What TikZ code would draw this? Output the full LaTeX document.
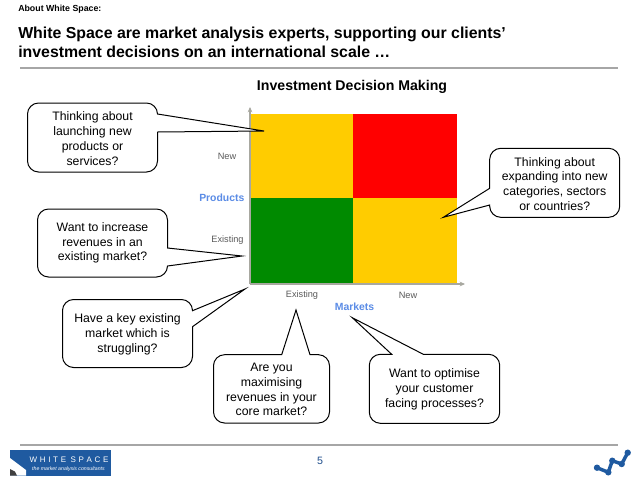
\documentclass[tikz,border=0pt]{standalone}
\usepackage{fontspec}
\setmainfont{Liberation Sans}
\usetikzlibrary{arrows.meta}
\definecolor{wsyellow}{HTML}{FFCC00}
\definecolor{wsred}{HTML}{FF0000}
\definecolor{wsgreen}{HTML}{008A00}
\definecolor{wsrule}{HTML}{A6A6A6}
\definecolor{wsaxis}{HTML}{A8A8A0}
\definecolor{wsaxtext}{HTML}{5A5A5A}
\definecolor{wsblue}{HTML}{5B8CE6}
\definecolor{wsnavy}{HTML}{1F5AA0}
\definecolor{wspage}{HTML}{1F4E8C}
\newcommand{\pxfont}[2]{\fontsize{#1}{#2}\selectfont}
\tikzset{
  x=0.75pt,y=-0.75pt,
  bubbleline/.style={draw=black,line width=0.75pt,fill=white,line join=miter},
  bubbletext/.style={align=center,text=black,font=\pxfont{9.2}{11.1},inner sep=0pt},
  headtext/.style={anchor=west,inner sep=0pt,align=left,text=black},
  axislabel/.style={inner sep=0pt,text=wsaxtext,font=\pxfont{6.9}{8}},
  axistitle/.style={inner sep=0pt,text=wsblue,font=\bfseries\pxfont{7.8}{10}},
  rulebar/.style={draw=wsrule,line width=1.3pt},
  axisline/.style={draw=wsaxis,line width=0.9pt,-{Stealth[length=4pt,width=3.5pt]}},
}
% #1 left, #2 top, #3 right, #4 bottom, #5 top pointer, #6 right pointer, #7 left pointer
\newcommand{\bubbleoutline}[7]{%
  \pgfmathsetmacro{\bl}{#1+11}\pgfmathsetmacro{\br}{#3-11}%
  \pgfmathsetmacro{\bt}{#2+11}\pgfmathsetmacro{\bb}{#4-11}%
  \pgfmathsetmacro{\kl}{#1+5}\pgfmathsetmacro{\kr}{#3-5}%
  \pgfmathsetmacro{\kt}{#2+5}\pgfmathsetmacro{\kb}{#4-5}%
  \draw[bubbleline] (\bl,#2) #5 -- (\br,#2) .. controls (\kr,#2) and (#3,\kt) .. (#3,\bt) #6 -- (#3,\bb)
    .. controls (#3,\kb) and (\kr,#4) .. (\br,#4) -- (\bl,#4) .. controls (\kl,#4) and (#1,\kb) .. (#1,\bb) #7 -- (#1,\bt)
    .. controls (#1,\kt) and (\kl,#2) .. (\bl,#2) -- cycle;%
}
\begin{document}
\begin{tikzpicture}
\useasboundingbox (0,0) rectangle (638,479);
\fill[white] (0,0) rectangle (638,479);

% headings and rules
\node[headtext,font=\bfseries\pxfont{6.6}{8}] (kicker) at (18,9) {About White Space:};
\node[headtext,font=\bfseries\pxfont{11.9}{14.3}] (title) at (18,42.5) {White Space are market analysis experts, supporting our clients’\\investment decisions on an international scale …};
\coordinate (rtl) at (20,68); \coordinate (rtr) at (618,68);
\draw[rulebar] (rtl) -- (rtr);
\coordinate (rbl) at (20,445); \coordinate (rbr) at (618,445);
\draw[rulebar] (rbl) -- (rbr);
\node[inner sep=0pt,font=\bfseries\pxfont{10.6}{12}] (charttitle) at (352,87) {Investment Decision Making};

% matrix
\fill[wsyellow] (250,114) rectangle (353.3,198.3);
\fill[wsred] (353.3,114) rectangle (457.3,198.3);
\fill[wsgreen] (250,198.3) rectangle (353.3,284);
\fill[wsyellow] (353.3,198.3) rectangle (457.3,284);
\coordinate (origin) at (250,284);
\coordinate (ytip) at (250,107);
\coordinate (xtip) at (465,284);
\draw[axisline] (origin) -- (ytip);
\draw[axisline] (origin) -- (xtip);
\node[axislabel] (ynew) at (227,156) {New};
\node[axislabel] (yex) at (227.5,240.5) {Existing};
\node[axislabel] (xex) at (302,295.5) {Existing};
\node[axislabel] (xnew) at (408,295.5) {New};
\node[axistitle] (products) at (221.8,197.5) {Products};
\node[axistitle] (markets) at (354.5,306.5) {Markets};

% callouts
\bubbleoutline{27.5}{103}{157.5}{172}{}{-- (157.5,114) -- (264,131) -- (157.5,132)}{}
\node[bubbletext] (c1) at (92.5,138.5) {Thinking about\\launching new\\products or\\services?};
\bubbleoutline{37.5}{209}{167.5}{277}{}{-- (167.5,248) -- (242,256) -- (167.5,266)}{}
\node[bubbletext] (c2) at (102.5,243) {Want to increase\\revenues in an\\existing market?};
\bubbleoutline{62.5}{299.5}{192.5}{367.5}{}{-- (192.5,310.7) -- (245,289) -- (192.5,326.7)}{}
\node[bubbletext] (c3) at (127.5,334.5) {Have a key existing\\market which is\\struggling?};
\bubbleoutline{213.5}{354.7}{329.5}{423}{-- (281.7,354.7) -- (296,310) -- (310,354.7)}{}{}
\node[bubbletext] (c4) at (271.5,389.5) {Are you\\maximising\\revenues in your\\core market?};
\bubbleoutline{369.3}{354.3}{499.7}{423.3}{-- (391.7,354.3) -- (352.3,317.7) -- (423.3,354.3)}{}{}
\node[bubbletext] (c5) at (434.5,389.5) {Want to optimise\\your customer\\facing processes?};
\bubbleoutline{489.7}{148.3}{619.7}{217.3}{}{}{-- (489.7,205) -- (443.3,217.3) -- (489.7,188.3)}
\node[bubbletext] (c6) at (554.7,184) {Thinking about\\expanding into new\\categories, sectors\\or countries?};

% footer
\node[inner sep=0pt,text=wspage,font=\pxfont{8}{10}] (pagenum) at (320,460.5) {5};
\fill[wsnavy] (10,449.5) rectangle (111,475.7);
\fill[white] (10,458) -- (26,470) -- (26,475.7) -- (10,475.7) -- cycle;
\fill[black!75] (10,469) -- (15,471.5) -- (17,475.7) -- (10,475.7) -- cycle;
\node[inner sep=0pt,text=white,font=\pxfont{6}{8}] (logoname) at (69,459.3) {W\,\,H\,\,I\,\,T\,\,E\;\;S\,\,P\,\,A\,\,C\,\,E};
\node[inner sep=0pt,text=white,font=\itshape\pxfont{3.9}{6}] (logotag) at (68.5,468.8) {the market analysis consultants};
\coordinate (w1) at (597,467.7); \coordinate (w2) at (608.3,472.3);
\coordinate (w3) at (612.3,460.7); \coordinate (w4) at (621.7,464);
\coordinate (w5) at (627.7,452.7);
\draw[wsnavy,line width=2.6pt,line join=round] (w1) -- (w2) -- (w3) -- (w4) -- (w5);
\foreach \p in {w1,w2,w3,w4,w5} \fill[wsnavy] (\p) circle[radius=3.2];
\end{tikzpicture}
\end{document}
